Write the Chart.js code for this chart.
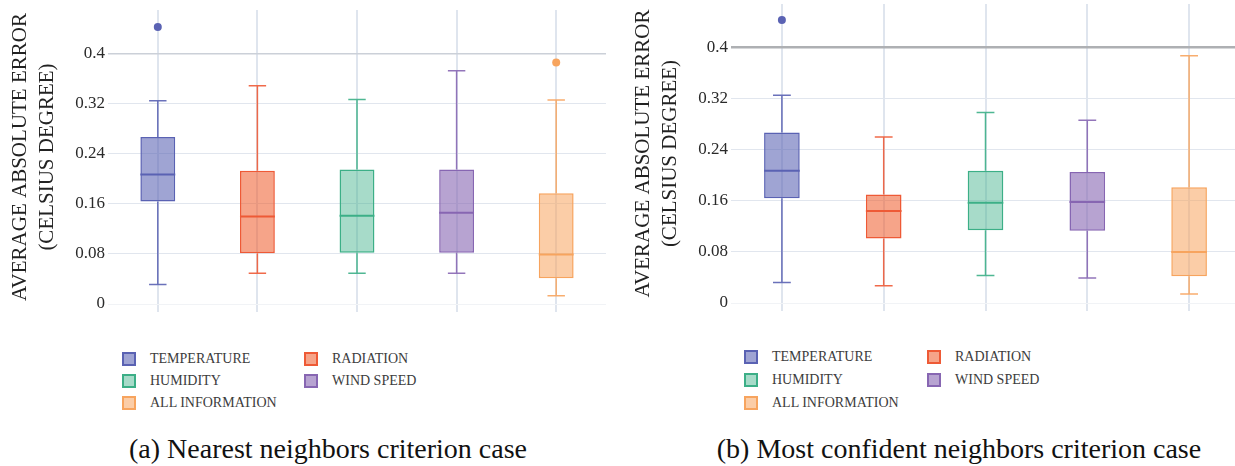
<!DOCTYPE html>
<html>
<head>
<meta charset="utf-8">
<script src="https://cdn.jsdelivr.net/npm/chart.js@4.4.0/dist/chart.umd.min.js"></script>
<style>
  html, body { margin: 0; padding: 0; background: #fff; overflow: hidden; }
  #wrap { position: relative; width: 1235px; height: 466px; overflow: hidden; font-family: 'Liberation Serif', serif; }
  #wrap canvas { position: absolute; }
  .item { position: absolute; white-space: nowrap; font-size: 14px; color: #3c3c3c; line-height: 14px; }
  .sw { position: absolute; left: 0; top: -7px; width: 10px; height: 10px; border: 2px solid; }
  .item span.txt { position: absolute; left: 28px; top: -7px; }
  .caption { position: absolute; font-size: 28px; color: #111; white-space: nowrap; transform: translateX(-50%); }
</style>
</head>
<body>
<div id="wrap">
  <canvas id="chartNearest" width="617" height="312" style="left:0;top:0"></canvas>
  <canvas id="chartConfident" width="640" height="311" style="left:617px;top:0"></canvas>
  <div id="legendNearest"></div>
  <div id="legendConfident"></div>
  <div class="caption" style="left:328px;top:433px">(a) Nearest neighbors criterion case</div>
  <div class="caption" style="left:959px;top:433px">(b) Most confident neighbors criterion case</div>
</div>
<script>
// categories + colours
const categories = ['TEMPERATURE', 'RADIATION', 'HUMIDITY', 'WIND SPEED', 'ALL INFORMATION'];
const lineColors = ['#5a62b3', '#ee5a36', '#3caf87', '#8766b2', '#f7a45e'];
const fillColors = ['rgba(90,98,179,0.58)', 'rgba(238,90,40,0.55)', 'rgba(60,175,135,0.45)',
                    'rgba(135,102,178,0.6)', 'rgba(247,164,94,0.55)'];
const yTicks = [0, 0.08, 0.16, 0.24, 0.32, 0.4];

// (a) nearest neighbors
const nnLower  = [0.031, 0.049, 0.049, 0.049, 0.013];
const nnQ1     = [0.164, 0.081, 0.082, 0.082, 0.041];
const nnMedian = [0.207, 0.140, 0.141, 0.146, 0.079];
const nnQ3     = [0.267, 0.213, 0.215, 0.215, 0.177];
const nnUpper  = [0.325, 0.349, 0.327, 0.373, 0.326];
const nnOutliers = [[0.443], [], [], [], [0.386]];

// (b) most confident neighbors
const mcLower  = [0.032, 0.027, 0.043, 0.039, 0.014];
const mcQ1     = [0.164, 0.101, 0.114, 0.113, 0.042];
const mcMedian = [0.207, 0.144, 0.157, 0.158, 0.080];
const mcQ3     = [0.267, 0.170, 0.207, 0.205, 0.181];
const mcUpper  = [0.325, 0.260, 0.298, 0.286, 0.387];
const mcOutliers = [[0.443], [], [], [], []];

const SERIF = "'Liberation Serif', 'Times New Roman', serif";
Chart.defaults.font.family = SERIF;

// whiskers, caps and median lines, drawn from the scales
function whiskerPlugin(stats) {
    return {
        id: 'whiskers',
        afterDatasetsDraw(chart) {
            const { ctx, scales: { x, y } } = chart;
            const bars = chart.getDatasetMeta(0).data;
            ctx.save();
            categories.forEach(function(cat, i) {
                const cx = x.getPixelForValue(i);
                const half = bars[i].width / 2;
                const cap = half / 2;
                const yLo = y.getPixelForValue(stats.lower[i]);
                const yHi = y.getPixelForValue(stats.upper[i]);
                const yQ1 = y.getPixelForValue(stats.q1[i]);
                const yQ3 = y.getPixelForValue(stats.q3[i]);
                const yMed = y.getPixelForValue(stats.median[i]);
                ctx.strokeStyle = lineColors[i];
                ctx.globalAlpha = 0.9;
                ctx.lineWidth = 1.5;
                ctx.beginPath();
                ctx.moveTo(cx, yQ3); ctx.lineTo(cx, yHi);
                ctx.moveTo(cx - cap, yHi); ctx.lineTo(cx + cap, yHi);
                ctx.moveTo(cx, yQ1); ctx.lineTo(cx, yLo);
                ctx.moveTo(cx - cap, yLo); ctx.lineTo(cx + cap, yLo);
                ctx.stroke();
                ctx.globalAlpha = 1;
                ctx.lineWidth = 2;
                ctx.beginPath();
                ctx.moveTo(cx - half, yMed); ctx.lineTo(cx + half, yMed);
                ctx.stroke();
            });
            ctx.restore();
        }
    };
}

function makeChart(id, stats, opt) {
    const outlierPts = [];
    stats.outliers.forEach(function(list, i) {
        list.forEach(function(v) { outlierPts.push({ x: categories[i], y: v }); });
    });
    const ctx = document.getElementById(id).getContext('2d');
    return new Chart(ctx, {
        type: 'bar',
        data: {
            labels: categories,
            datasets: [{
                data: categories.map((c, i) => [stats.q1[i], stats.q3[i]]),
                backgroundColor: fillColors,
                borderColor: lineColors,
                borderWidth: 1.5,
                borderSkipped: false,
                barPercentage: 0.35,
                categoryPercentage: 1
            }, {
                type: 'line',
                data: outlierPts,
                showLine: false,
                pointRadius: 4,
                pointBorderWidth: 0,
                pointBackgroundColor: c => lineColors[categories.indexOf(c.raw ? c.raw.x : '')]
            }]
        },
        options: {
            responsive: false,
            animation: false,
            layout: { padding: { top: opt.padTop, right: opt.padRight, left: 0, bottom: 0 } },
            plugins: { legend: { display: false }, tooltip: { enabled: false } },
            scales: {
                x: {
                    border: { display: false },
                    ticks: { display: false },
                    grid: { offset: false, color: '#dfe5ee', lineWidth: 2, drawTicks: true, tickLength: 8, tickColor: '#dfe5ee' }
                },
                y: {
                    min: 0,
                    max: opt.max,
                    border: { display: false },
                    afterBuildTicks: s => { s.ticks = yTicks.map(v => ({ value: v })); },
                    afterFit: s => { s.width = opt.axisWidth; s.paddingTop = 0; s.paddingBottom = 0; },
                    ticks: {
                        padding: 3,
                        color: '#2a2a2a',
                        font: { family: SERIF, size: 17 },
                        callback: v => String(v)
                    },
                    grid: {
                        drawTicks: false,
                        color: c => c.tick.value === 0 ? '#f1f3f6' : (c.tick.value === 0.4 ? opt.topLine : '#e1e6ee'),
                        lineWidth: c => c.tick.value === 0.4 ? opt.topWidth : 1
                    },
                    title: {
                        display: true,
                        text: ['AVERAGE ABSOLUTE ERROR', '(CELSIUS DEGREE)'],
                        color: '#222',
                        font: { family: SERIF, size: 21, lineHeight: 1.3 },
                        padding: { top: opt.titlePad, bottom: 0 }
                    }
                }
            }
        },
        plugins: [whiskerPlugin(stats)]
    });
}

function makeLegend(id, cols, rows) {
    const box = document.getElementById(id);
    categories.forEach(function(cat, i) {
        const el = document.createElement('div');
        el.className = 'item';
        el.style.left = cols[i % 2] + 'px';
        el.style.top = rows[Math.floor(i / 2)] + 'px';
        el.innerHTML = '<div class="sw" style="background:' + fillColors[i] + ';border-color:' + lineColors[i] + '"></div>' +
                       '<span class="txt">' + cat + '</span>';
        box.appendChild(el);
    });
}

function build() {
    makeChart('chartNearest',
        { lower: nnLower, q1: nnQ1, median: nnMedian, q3: nnQ3, upper: nnUpper, outliers: nnOutliers },
        { max: 0.47, padTop: 10, padRight: 11, axisWidth: 108, titlePad: 7, topLine: '#cbd0d8', topWidth: 1.5 });
    makeChart('chartConfident',
        { lower: mcLower, q1: mcQ1, median: mcMedian, q3: mcQ3, upper: mcUpper, outliers: mcOutliers },
        { max: 0.468, padTop: 3, padRight: 17, axisWidth: 114, titlePad: 13, topLine: '#aeb0b3', topWidth: 2.5 });
    makeLegend('legendNearest', [122, 304], [359, 381, 403]);
    makeLegend('legendConfident', [744, 927], [357, 380, 403]);
}

Promise.all([
    document.fonts.load("17px 'Liberation Serif'"),
    document.fonts.load("21px 'Liberation Serif'")
]).then(build, build);
</script>
</body>
</html>
